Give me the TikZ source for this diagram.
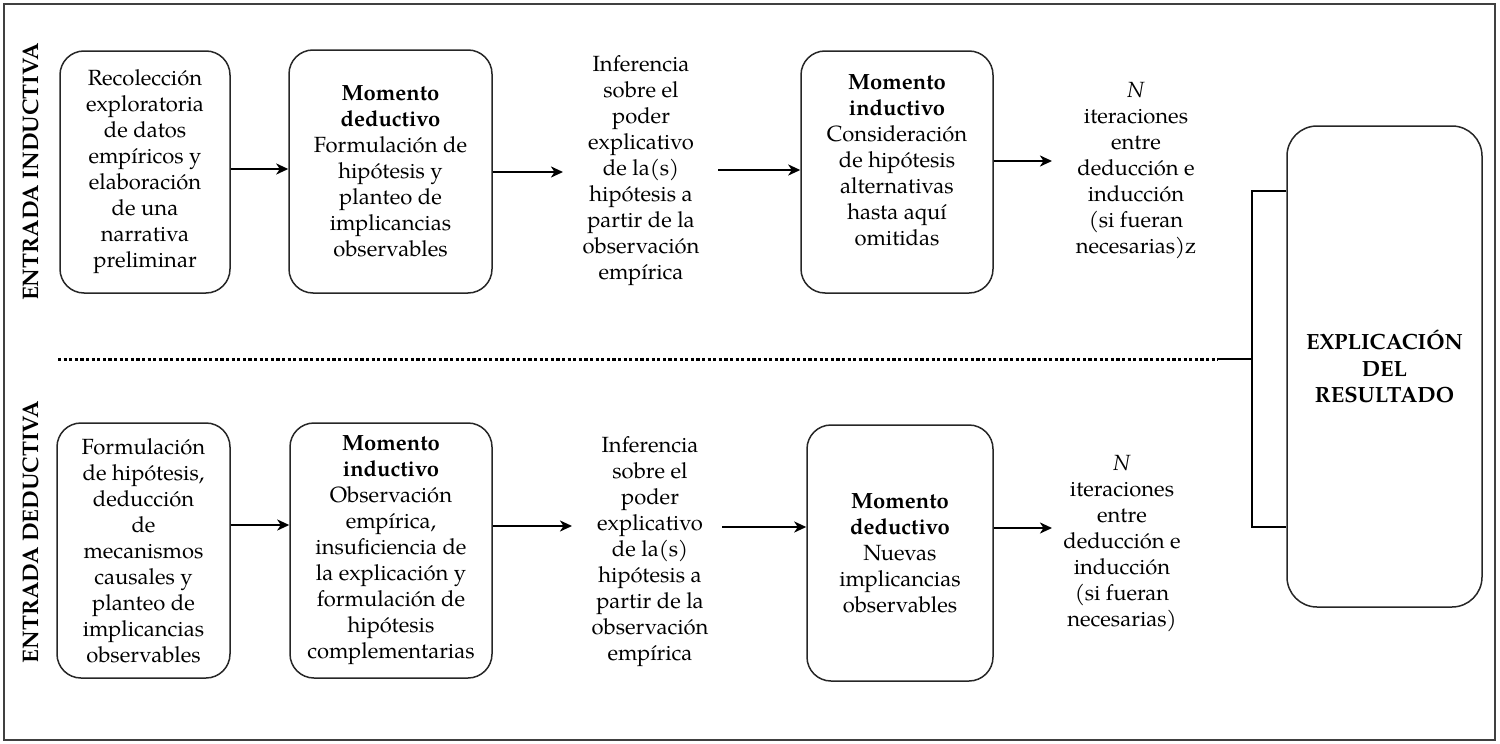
\documentclass[tikz,border=0pt]{standalone}
\usepackage{fontspec}
\setmainfont{texgyrepagella}[Extension=.otf,UprightFont=*-regular,BoldFont=*-bold,ItalicFont=*-italic,BoldItalicFont=*-bolditalic]
\usetikzlibrary{arrows.meta}
\begin{document}
\begin{tikzpicture}[x=1pt,y=-1pt,
  box/.style={draw=black!85,line width=1.5pt,rounded corners=24pt,align=center,inner sep=0pt,font=\fontsize{22}{26}\selectfont},
  txt/.style={align=center,inner sep=0pt,font=\fontsize{22}{26}\selectfont},
  arr/.style={line width=2pt,-{Stealth[length=12pt,width=11pt,inset=3.5pt]}},
  side/.style={rotate=90,font=\fontsize{22.5}{26}\bfseries\selectfont,inner sep=0pt},
  brk/.style={line width=2.8pt}]
\useasboundingbox (0,0) rectangle (1500,744);
\draw[black!75,line width=2pt] (4,4) rectangle (1495,740);

% side labels
\node[side] (li) at (31,172) {ENTRADA INDUCTIVA};
\node[side] (ld) at (31,532) {ENTRADA DEDUCTIVA};

% top row
\node[box,minimum width=170pt,minimum height=242pt] (a1) at (145,172)
 {Recolección\\exploratoria\\de datos\\empíricos y\\elaboración\\de una\\narrativa\\preliminar};
\node[box,minimum width=203pt,minimum height=243pt] (a2) at (390.5,171.5)
 {\textbf{Momento}\\\textbf{deductivo}\\Formulación de\\hipótesis y\\planteo de\\implicancias\\observables};
\node[txt] (a3) at (641,171)
 {Inferencia\\sobre el\\poder\\explicativo\\de la(s)\\hipótesis a\\partir de la\\observación\\empírica};
\node[box,minimum width=192pt,minimum height=242pt] (a4) at (897,172) {};
\node[txt] (a4t) at (897,160)
 {\textbf{Momento}\\\textbf{inductivo}\\Consideración\\de hipótesis\\alternativas\\hasta aquí\\omitidas};
\node[txt] (a5) at (1136,171)
 {\textit{N}\\iteraciones\\entre\\deducción e\\inducción\\(si fueran\\necesarias)z};

\coordinate (ea3) at (563,172);
\coordinate (sa3) at (718,170);
\coordinate (ea5) at (1052,161);
\draw[arr] (a1.east |- 0,169) -- (a2.west |- 0,169);
\draw[arr] (a2.east |- ea3) -- (ea3);
\draw[arr] (sa3) -- (a4.west |- sa3);
\draw[arr] (a4.east |- ea5) -- (ea5);

% bottom row
\node[box,minimum width=173pt,minimum height=255pt] (b1) at (143.5,550.5)
 {Formulación\\de hipótesis,\\deducción\\de\\mecanismos\\causales y\\planteo de\\implicancias\\observables};
\node[box,minimum width=202pt,minimum height=255pt] (b2) at (391,550.5)
 {\textbf{Momento}\\\textbf{inductivo}\\Observación\\empírica,\\insuficiencia de\\la explicación y\\formulación de\\hipótesis\\complementarias};
\node[txt] (b3) at (650,552)
 {Inferencia\\sobre el\\poder\\explicativo\\de la(s)\\hipótesis a\\partir de la\\observación\\empírica};
\node[box,minimum width=186pt,minimum height=256pt] (b4) at (900,553)
 {\textbf{Momento}\\\textbf{deductivo}\\Nuevas\\implicancias\\observables};
\node[txt] (b5) at (1122,544)
 {\textit{N}\\iteraciones\\entre\\deducción e\\inducción\\(si fueran\\necesarias)};

\coordinate (eb3) at (572,526);
\coordinate (sb3) at (722,527);
\coordinate (eb5) at (1052,528);
\draw[arr] (b1.east |- 0,525) -- (b2.west |- 0,525);
\draw[arr] (b2.east |- eb3) -- (eb3);
\draw[arr] (sb3) -- (b4.west |- sb3);
\draw[arr] (b4.east |- eb5) -- (eb5);

% result
\node[box,rounded corners=30pt,minimum width=195pt,minimum height=481pt,font=\fontsize{22}{26.5}\bfseries\selectfont] (r) at (1384.5,366.5)
 {EXPLICACIÓN\\DEL\\RESULTADO};

% separator and bracket
\coordinate (d0) at (58,359);
\coordinate (d1) at (1218,359);
\coordinate (bj) at (1252,359);
\draw[line width=3pt,dash pattern=on 3.2pt off 2.4pt] (d0) -- (d1);
\draw[brk] (d1) -- (bj);
\draw[brk] (r.west |- 0,191) -- (1252,191) -- (1252,527) -- (r.west |- 0,527);
\end{tikzpicture}
\end{document}
